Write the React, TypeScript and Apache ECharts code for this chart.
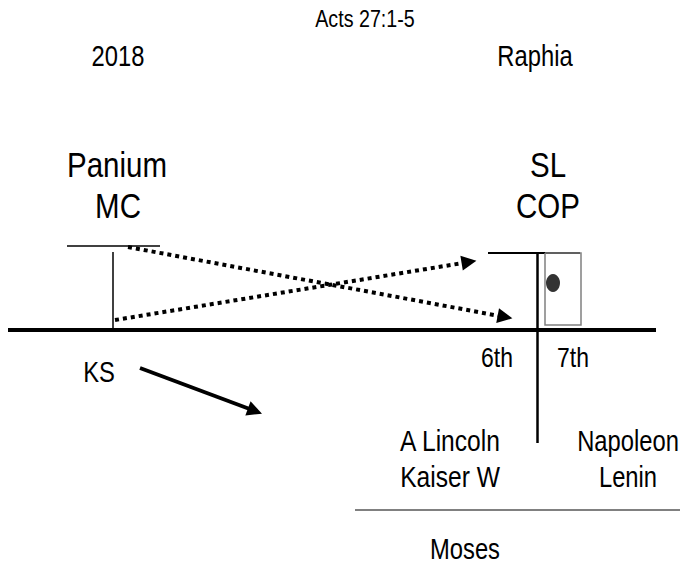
import React, { useEffect, useRef } from "react";
import * as echarts from "echarts";

const FONT = "'Liberation Sans', Arial, sans-serif";
const NARROW = 0.82;

// [text, x, y, fontSize]
const labels: [string, number, number, number][] = [
  ["Acts 27:1-5", 365, 19, 24],
  ["2018", 118, 56, 29],
  ["Raphia", 535, 56, 29],
  ["Panium", 117, 164, 36],
  ["MC", 118, 205, 36],
  ["SL", 548, 164, 36],
  ["COP", 548, 205, 36],
  ["6th", 497, 357, 28],
  ["7th", 573, 357, 28],
  ["KS", 99, 372, 29],
  ["A Lincoln", 450, 441, 30],
  ["Kaiser W", 450, 477, 30],
  ["Napoleon", 628, 441, 29],
  ["Lenin", 628, 477, 29],
  ["Moses", 465, 549, 29],
];

// solid segments: [x1, y1, x2, y2, width, color]
const solidSegments: [number, number, number, number, number, string][] = [
  [8, 330, 656, 330, 4, "#000"],
  [67, 246, 160, 246, 1.5, "#000"],
  [113, 252, 113, 330, 1.5, "#000"],
  [488, 253, 580, 253, 2, "#000"],
  [537, 253, 537, 443, 2.5, "#000"],
  [355, 510, 680, 510, 2, "#808080"],
];

// gray rectangle outline: polyline points
const boxOutline: [number, number][] = [
  [545, 253], [581, 253], [581, 325], [545, 325], [545, 253],
];

// dotted arrows: [x1, y1, x2, y2]
const dottedArrows: [number, number, number, number][] = [
  [128, 247, 505, 317],
  [115, 320, 469, 262],
];

// solid arrow from KS
const solidArrows: [number, number, number, number][] = [
  [140, 368, 255, 411],
];

const dot: [number, number] = [553, 283];

export default function App() {
  const ref = useRef<HTMLDivElement>(null);
  useEffect(() => {
    document.body.style.margin = "0";
    if (!ref.current) return;
    const chart = echarts.init(ref.current, undefined, { renderer: "svg" });
    chart.setOption({
      animation: false,
      backgroundColor: "#fff",
      grid: { left: 0, right: 0, top: 0, bottom: 0 },
      xAxis: { type: "value", min: 0, max: 700, show: false },
      yAxis: { type: "value", min: 0, max: 566, inverse: true, show: false },
      series: [
        {
          type: "lines",
          coordinateSystem: "cartesian2d",
          silent: true,
          data: solidSegments.map(([x1, y1, x2, y2, w, c]) => ({
            coords: [[x1, y1], [x2, y2]],
            lineStyle: { width: w, color: c, type: "solid", opacity: 1 },
          })),
        },
        {
          type: "lines",
          coordinateSystem: "cartesian2d",
          polyline: true,
          silent: true,
          data: [{ coords: boxOutline }],
          lineStyle: { width: 1.5, color: "#808080", opacity: 1 },
        },
        {
          type: "lines",
          coordinateSystem: "cartesian2d",
          silent: true,
          symbol: ["none", "triangle"],
          symbolSize: [13, 15],
          data: dottedArrows.map(([x1, y1, x2, y2]) => ({ coords: [[x1, y1], [x2, y2]] })),
          lineStyle: { width: 4, color: "#000", type: [4, 4], cap: "butt", opacity: 1 },
        },
        {
          type: "lines",
          coordinateSystem: "cartesian2d",
          silent: true,
          symbol: ["none", "triangle"],
          symbolSize: [13, 15],
          data: solidArrows.map(([x1, y1, x2, y2]) => ({ coords: [[x1, y1], [x2, y2]] })),
          lineStyle: { width: 4, color: "#000", type: "solid", opacity: 1 },
        },
        {
          type: "scatter",
          silent: true,
          symbol: "circle",
          symbolSize: [14, 18],
          itemStyle: { color: "#000" },
          data: [dot],
        },
      ],
    });
    const toPx = (x: number, y: number) => chart.convertToPixel({ gridIndex: 0 }, [x, y]) as number[];
    chart.setOption({
      graphic: labels.map(([t, x, y, fs]) => {
        const [px, py] = toPx(x, y);
        return {
          type: "text",
          x: px,
          y: py,
          scaleX: NARROW,
          silent: true,
          style: {
            text: t,
            x: 0,
            y: 0,
            align: "center",
            verticalAlign: "middle",
            fontSize: fs,
            fontFamily: FONT,
            fill: "#000",
          },
        };
      }),
    });
    return () => chart.dispose();
  }, []);
  return <div ref={ref} style={{ width: 700, height: 566 }} />;
}
